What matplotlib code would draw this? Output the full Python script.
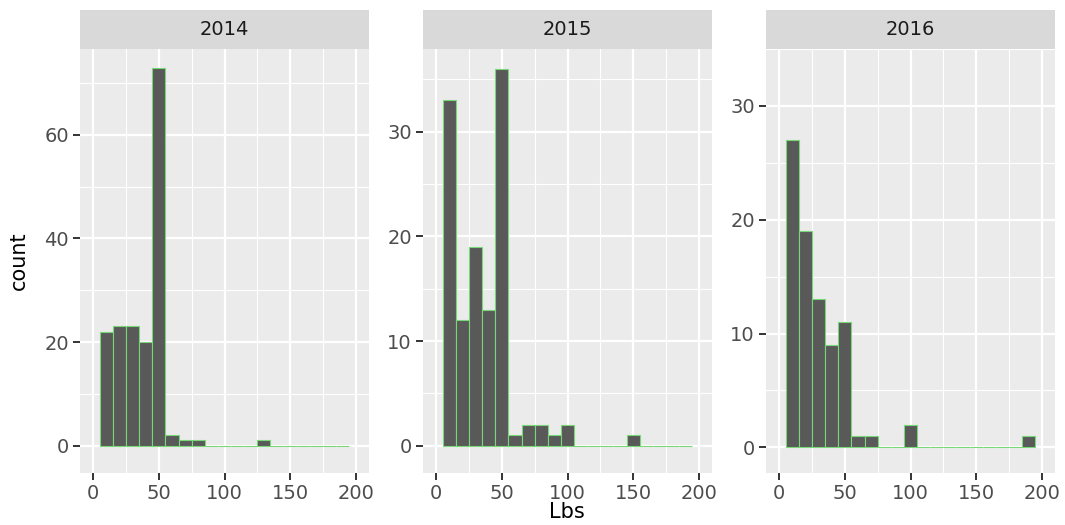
import numpy as np
import matplotlib
matplotlib.use('Agg')
import matplotlib.pyplot as plt

# histogram counts per 10-lb bin, bins start at 5 lbs
years = ['2014', '2015', '2016']
bin_edges = [5, 15, 25, 35, 45, 55, 65, 75, 85, 95, 105, 115, 125, 135, 145,
             155, 165, 175, 185, 195]
counts_2014 = [22, 23, 23, 20, 73, 2, 1, 1, 0, 0, 0, 0, 1, 0, 0, 0, 0, 0, 0]
counts_2015 = [33, 12, 19, 13, 36, 1, 2, 2, 1, 2, 0, 0, 0, 0, 1, 0, 0, 0, 0]
counts_2016 = [27, 19, 13, 9, 11, 1, 1, 0, 0, 2, 0, 0, 0, 0, 0, 0, 0, 0, 1]
all_counts = [counts_2014, counts_2015, counts_2016]
y_ticks = [[0, 20, 40, 60], [0, 10, 20, 30], [0, 10, 20, 30]]
y_limits = [(-5.3, 76.6), (-2.6, 37.9), (-2.25, 32.8)]
x_ticks = [0, 50, 100, 150, 200]

plt.rcParams['font.family'] = ['DejaVu Sans']

W, H = 1065, 525
fig = plt.figure(figsize=(W / 100, H / 100), dpi=100)

panel_left = [80, 423, 766]
panel_w = 289
panel_top, panel_bot = 49, 473
strip_top = 10

for i in range(3):
    ax = fig.add_axes([panel_left[i] / W, (H - panel_bot) / H,
                       panel_w / W, (panel_bot - panel_top) / H])
    ax.set_facecolor('#EBEBEB')
    for s in ax.spines.values():
        s.set_visible(False)

    edges = np.array(bin_edges)
    ax.bar(edges[:-1], all_counts[i], width=np.diff(edges), align='edge',
           color='#595959', edgecolor='#78D878', linewidth=0.8, zorder=3)

    ax.set_xlim(-10, 210)
    ax.set_ylim(*y_limits[i])
    ax.set_xticks(x_ticks)
    ax.set_yticks(y_ticks[i])
    ax.set_xticks([25, 75, 125, 175], minor=True)
    yt = y_ticks[i]
    step = yt[1] - yt[0]
    ax.set_yticks([t + step / 2 for t in yt], minor=True)

    ax.grid(True, which='major', color='white', linewidth=1.6, zorder=1)
    ax.grid(True, which='minor', color='white', linewidth=0.8, zorder=1)
    ax.set_axisbelow(True)
    ax.tick_params(which='major', length=5, width=1.4, color='#333333',
                   labelcolor='#4D4D4D', labelsize=14, pad=3)
    ax.tick_params(which='minor', length=0)

    sax = fig.add_axes([panel_left[i] / W, (H - panel_top) / H,
                        panel_w / W, (panel_top - strip_top) / H])
    sax.set_facecolor('#D9D9D9')
    sax.set_xticks([])
    sax.set_yticks([])
    for s in sax.spines.values():
        s.set_visible(False)
    sax.text(0.5, 0.5, years[i], ha='center', va='center', fontsize=14,
             color='#1A1A1A', transform=sax.transAxes)

fig.text(567 / W, 1 - 512 / H, 'Lbs', ha='center', va='center', fontsize=15)
fig.text(19 / W, 1 - 261 / H, 'count', ha='center', va='center',
         rotation=90, fontsize=15)

fig.savefig('out.png', dpi=100, facecolor='white')
